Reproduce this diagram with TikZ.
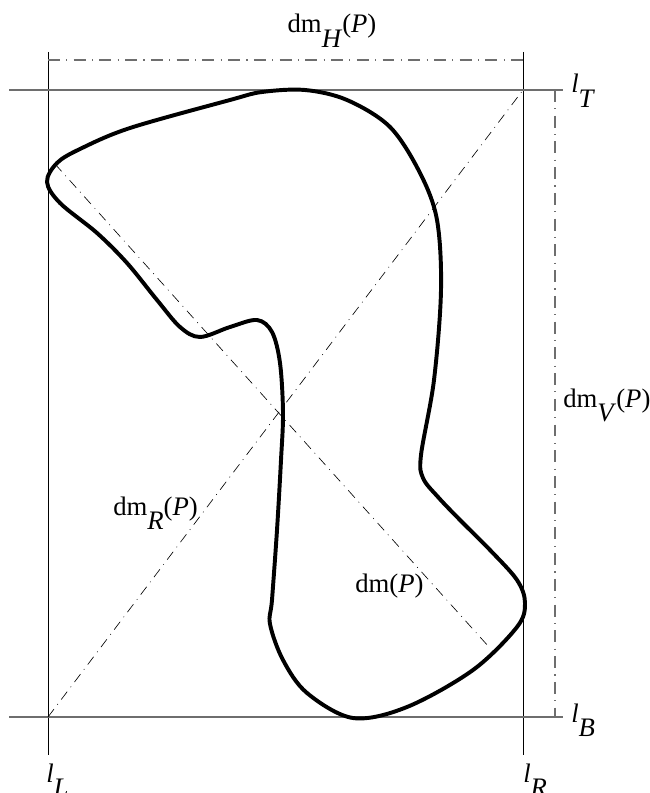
\documentclass[tikz,border=0pt]{standalone}
\usepackage{fontspec}
\setmainfont{Liberation Serif}
\usetikzlibrary{calc}
\definecolor{ink}{HTML}{000000}
\definecolor{rule}{HTML}{6E6E6E}
\newcommand{\lowsub}[1]{\raisebox{-.55em}{\textit{#1}}}
\tikzset{
  lbl/.style={font=\fontsize{19}{22}\selectfont, text=ink, inner sep=0pt},
  support/.style={draw=ink, line width=.6pt},
  level/.style={draw=rule, line width=.9pt},
  span/.style={draw=rule, line width=.9pt,
               dash pattern=on 8.5pt off 4.5pt on .8pt off 4.5pt},
  diam/.style={draw=ink, line width=.45pt,
               dash pattern=on 7pt off 4pt on .6pt off 4pt},
  region/.style={draw=ink, line width=2.8pt, line join=round}
}

\begin{document}
\begin{tikzpicture}[x=0.025cm,y=-0.025cm]
\useasboundingbox (0,0) rectangle (649,793);

% Corners of the bounding box of P.
\coordinate (TL) at (48,90);
\coordinate (TR) at (523,90);
\coordinate (BL) at (48,717);
\coordinate (BR) at (523,717);

% Supporting lines l_L, l_R (vertical) and l_T, l_B (horizontal).
\draw[support] (48,52) -- (48,755);
\draw[support] (523,52) -- (523,755);
\draw[level] (9,90) -- (563,90);
\draw[level] (9,717) -- (563,717);

% Horizontal and vertical widths.
\draw[span] (48,60) -- (523,60);
\draw[span] (555,90) -- (555,717);

% Diagonal of the box and the diameter of P.
\draw[diam] (BL) -- (TR);
\coordinate (dA) at (55,164);
\coordinate (dB) at (489,647);
\draw[diam] (dA) -- (dB);

% The polygon-like region P.
\draw[region] plot[smooth cycle, tension=.55] coordinates {
  (305,90) (347,100) (390,127) (420,173) (437,220) (441,290)
  (434,380) (421,455) (423,478) (438,497) (460,520) (490,550)
  (517,580) (525,603) (517,627) (473,670) (407,707) (353,718)
  (307,693) (283,660) (270,624) (272,600) (277,530) (281,460)
  (283,413) (280,363) (272,332) (257,320) (230,327) (200,337)
  (180,327) (157,300) (127,263) (97,233) (60,203) (47,182)
  (57,163) (80,149) (130,128) (230,100) (262,92)};

% Labels.
\node[lbl, anchor=base] (dmH) at (332,33) {dm\lowsub{H}(\textit{P})};
\node[lbl, anchor=base west] (dmV) at (563,407) {dm\lowsub{V}(\textit{P})};
\node[lbl, anchor=base west] (dmR) at (113,515) {dm\lowsub{R}(\textit{P})};
\node[lbl, anchor=base west] (dm) at (355,592) {dm(\textit{P})};
\node[lbl, anchor=base west] (lT) at (571,93) {\textit{l}\lowsub{T}};
\node[lbl, anchor=base west] (lB) at (571,722) {\textit{l}\lowsub{B}};
\node[lbl, anchor=base west] (lL) at (46,782) {\textit{l}\lowsub{L}};
\node[lbl, anchor=base west] (lR) at (523,782) {\textit{l}\lowsub{R}};

\end{tikzpicture}
\end{document}
